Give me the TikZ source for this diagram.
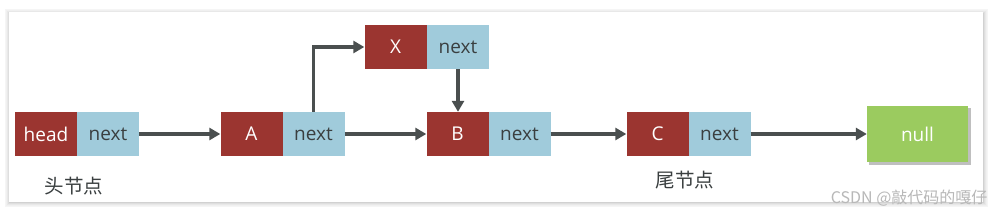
\documentclass[tikz,border=0pt]{standalone}
\usepackage{fontspec}
\setmainfont{Open Sans}
\newfontfamily\cjk{Noto Sans CJK SC}
\usetikzlibrary{arrows.meta}
\definecolor{cred}{HTML}{9B3530}
\definecolor{cblue}{HTML}{A0CBDB}
\definecolor{cgreen}{HTML}{9BCB5F}
\definecolor{carrow}{HTML}{4A4F4F}
\definecolor{ctext}{HTML}{3A3F40}
\begin{document}
\begin{tikzpicture}[x=1pt,y=-1pt,
  datbox/.style={fill=cred,text=white,minimum width=62pt,minimum height=44pt,inner sep=0pt,font=\fontsize{19}{21}\selectfont},
  ptrbox/.style={fill=cblue,text=ctext,minimum width=62pt,minimum height=44pt,inner sep=0pt,font=\fontsize{19}{21}\selectfont},
  nullbox/.style={fill=cgreen,text=white,minimum width=101pt,minimum height=56pt,inner sep=0pt,font=\fontsize{19}{21}\selectfont},
  link/.style={draw=carrow,line width=3.4pt,-{Triangle[length=11pt,width=12pt]}},
  captext/.style={text=ctext,font=\cjk\fontsize{19.5}{21}\selectfont},
  wm/.style={text=black!28,font=\cjk\fontsize{16}{18}\selectfont}]
\useasboundingbox (0,0) rectangle (995,216);
% frame with soft shadow
\foreach \d/\c in {5/black!4,4/black!6,3/black!9,2/black!13,1/black!18}{
  \fill[\c] (9-\d+1,12-\d+2) rectangle (983+\d,202+\d);
}
\fill[white] (9,12) rectangle (983,202);
% null shadow
\fill[black!25] (869,108) rectangle (971,165);
% nodes
\node[datbox] (hd) at (46,134) {head};
\node[ptrbox] (hn) at (108,134) {next};
\node[datbox] (ad) at (251.5,134) {A};
\node[ptrbox] (an) at (313.5,134) {next};
\node[datbox] (xd) at (395.5,47) {X};
\node[ptrbox] (xn) at (458,47) {next};
\node[datbox] (bd) at (457.5,134) {B};
\node[ptrbox] (bn) at (519.5,134) {next};
\node[datbox] (cd) at (657.5,134) {C};
\node[ptrbox] (cn) at (719.5,134) {next};
\node[nullbox] (nl) at (917.5,134) {null};
% links
\draw[link] (hn.east) -- (ad.west);
\draw[link] (an.east) -- (bd.west);
\draw[link] (an.north) |- (xd.west);
\draw[link] (xn.south) -- (bd.north -| xn.south);
\draw[link] (bn.east) -- (cd.west);
\draw[link] (cn.east) -- (nl.west);
% captions
\node[captext] (hcap) at (74,186) {头节点};
\node[captext] (tcap) at (685,180) {尾节点};
\node[wm,anchor=east] (wmk) at (991,198) {CSDN @敲代码的嘎仔};
\end{tikzpicture}
\end{document}
